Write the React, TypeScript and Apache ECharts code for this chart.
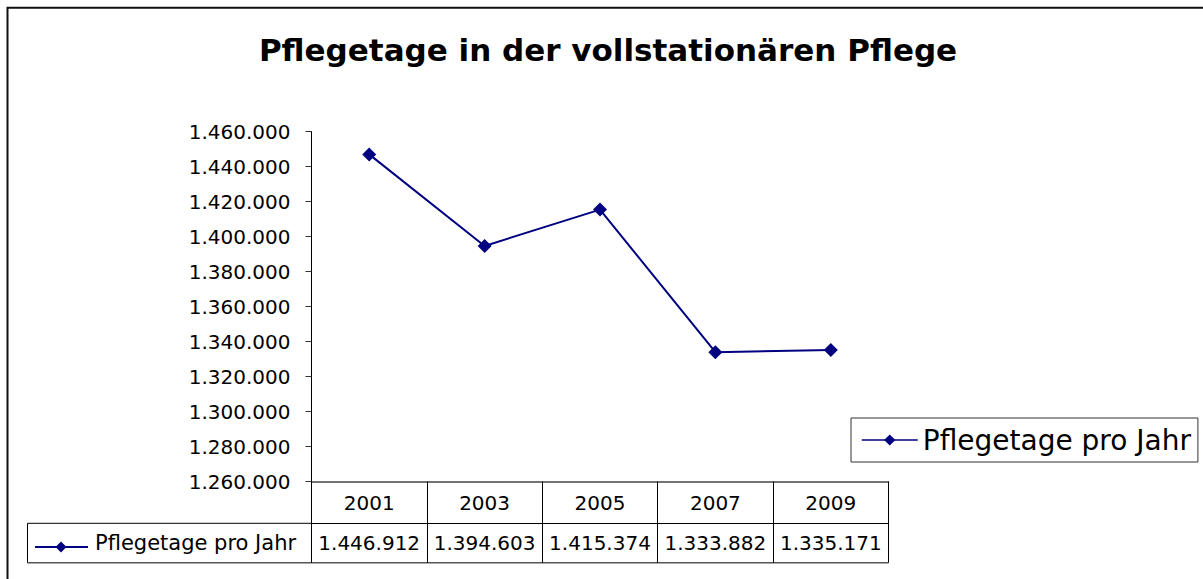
import React, { useEffect, useRef } from "react";
import * as echarts from "echarts";

const chartTitle = "Pflegetage in der vollstationären Pflege";
const seriesName = "Pflegetage pro Jahr";
const years = ["2001", "2003", "2005", "2007", "2009"];
const pflegetage = [1446912, 1394603, 1415374, 1333882, 1335171];
const yMin = 1260000;
const yMax = 1460000;
const yStep = 20000;

const FONT = "DejaVu Sans";
const NAVY = "#000080";

const fmt = (n: number) =>
  Math.round(n).toString().replace(/\B(?=(\d{3})+(?!\d))/g, ".");

export default function App() {
  const ref = useRef<HTMLDivElement>(null);

  useEffect(() => {
    if (!ref.current) return;
    const chart = echarts.init(ref.current, undefined, { renderer: "svg" });

    const gridLeft = 311.5;
    const gridTop = 131.5;
    const gridW = 577;
    const gridH = 350;
    const axisY = gridTop + gridH; // 481.5
    const row1 = 41.8;
    const rowDivY = axisY + row1; // 523.3
    const tableBottom = 562.7;
    const keyLeft = 27.5;
    const keyY = 547;

    const option: any = {
      animation: false,
      backgroundColor: "#fff",
      title: {
        text: chartTitle,
        left: 608,
        top: 34.5,
        padding: 0,
        textAlign: "center",
        textStyle: {
          fontFamily: FONT,
          fontSize: 31,
          fontWeight: "bold",
          color: "#000",
        },
      },
      legend: {
        data: [seriesName],
        left: 851,
        top: 418,
        orient: "horizontal",
        padding: [8, 7, 8, 10],
        borderColor: "#333",
        borderWidth: 1,
        itemWidth: 56,
        itemHeight: 14,
        lineStyle: { width: 1.5 },
        textStyle: { fontFamily: FONT, fontSize: 28, color: "#000" },
      },
      grid: {
        left: gridLeft,
        top: gridTop,
        width: gridW,
        height: gridH,
        containLabel: false,
      },
      xAxis: [
        {
          type: "category",
          data: years,
          boundaryGap: true,
          axisLine: { show: true, lineStyle: { color: "#444", width: 1.5 } },
          axisTick: {
            show: true,
            interval: 0,
            length: row1,
            lineStyle: { color: "#000", width: 1 },
          },
          axisLabel: {
            interval: 0,
            margin: 11,
            fontFamily: FONT,
            fontSize: 20,
            color: "#000",
          },
          splitLine: { show: false },
        },
        {
          type: "category",
          data: years,
          gridIndex: 0,
          position: "bottom",
          offset: row1,
          boundaryGap: true,
          axisLine: { show: true, lineStyle: { color: "#000", width: 1 } },
          axisTick: {
            show: true,
            interval: 0,
            length: tableBottom - rowDivY,
            lineStyle: { color: "#000", width: 1 },
          },
          axisLabel: {
            interval: 0,
            margin: 10,
            fontFamily: FONT,
            fontSize: 20,
            color: "#000",
            formatter: (_v: string, i: number) => fmt(pflegetage[i]),
          },
          splitLine: { show: false },
        },
      ],
      yAxis: {
        type: "value",
        min: yMin,
        max: yMax,
        interval: yStep,
        axisLine: { show: true, lineStyle: { color: "#000", width: 1 } },
        axisTick: { show: true, length: 6, lineStyle: { color: "#333" } },
        axisLabel: {
          margin: 21,
          fontFamily: FONT,
          fontSize: 20,
          color: "#000",
          formatter: (v: number) => fmt(v),
        },
        splitLine: { show: false },
      },
      series: [
        {
          name: seriesName,
          type: "line",
          xAxisIndex: 0,
          yAxisIndex: 0,
          data: pflegetage,
          symbol: "diamond",
          symbolSize: 14,
          itemStyle: { color: NAVY },
          lineStyle: { color: NAVY, width: 2 },
        },
      ],
      graphic: [
        {
          type: "rect",
          silent: true,
          shape: { x: 7.5, y: 7.7, width: 1400, height: 800 },
          style: { fill: "none", stroke: "#111", lineWidth: 2 },
        },
        {
          type: "line",
          silent: true,
          shape: { x1: keyLeft, y1: tableBottom, x2: gridLeft + gridW, y2: tableBottom },
          style: { stroke: "#555", lineWidth: 1.5 },
        },
        {
          type: "line",
          silent: true,
          shape: { x1: keyLeft, y1: rowDivY, x2: gridLeft, y2: rowDivY },
          style: { stroke: "#000", lineWidth: 1 },
        },
        {
          type: "line",
          silent: true,
          shape: { x1: keyLeft, y1: rowDivY, x2: keyLeft, y2: tableBottom },
          style: { stroke: "#000", lineWidth: 1 },
        },
        {
          type: "line",
          silent: true,
          shape: { x1: 35, y1: keyY, x2: 88, y2: keyY },
          style: { stroke: NAVY, lineWidth: 2 },
        },
        {
          type: "polygon",
          silent: true,
          shape: {
            points: [
              [61, keyY - 5.5],
              [66.5, keyY],
              [61, keyY + 5.5],
              [55.5, keyY],
            ],
          },
          style: { fill: NAVY },
        },
        {
          type: "text",
          silent: true,
          x: 95,
          y: 543.3,
          style: {
            text: seriesName,
            fontFamily: FONT,
            fontSize: 21,
            fill: "#000",
            textVerticalAlign: "middle",
            verticalAlign: "middle",
          },
        },
      ],
    };

    chart.setOption(option);
    return () => chart.dispose();
  }, []);

  return (
    <div
      ref={ref}
      style={{
        position: "fixed",
        left: 0,
        top: 0,
        width: 1203,
        height: 579,
        background: "#fff",
      }}
    />
  );
}
